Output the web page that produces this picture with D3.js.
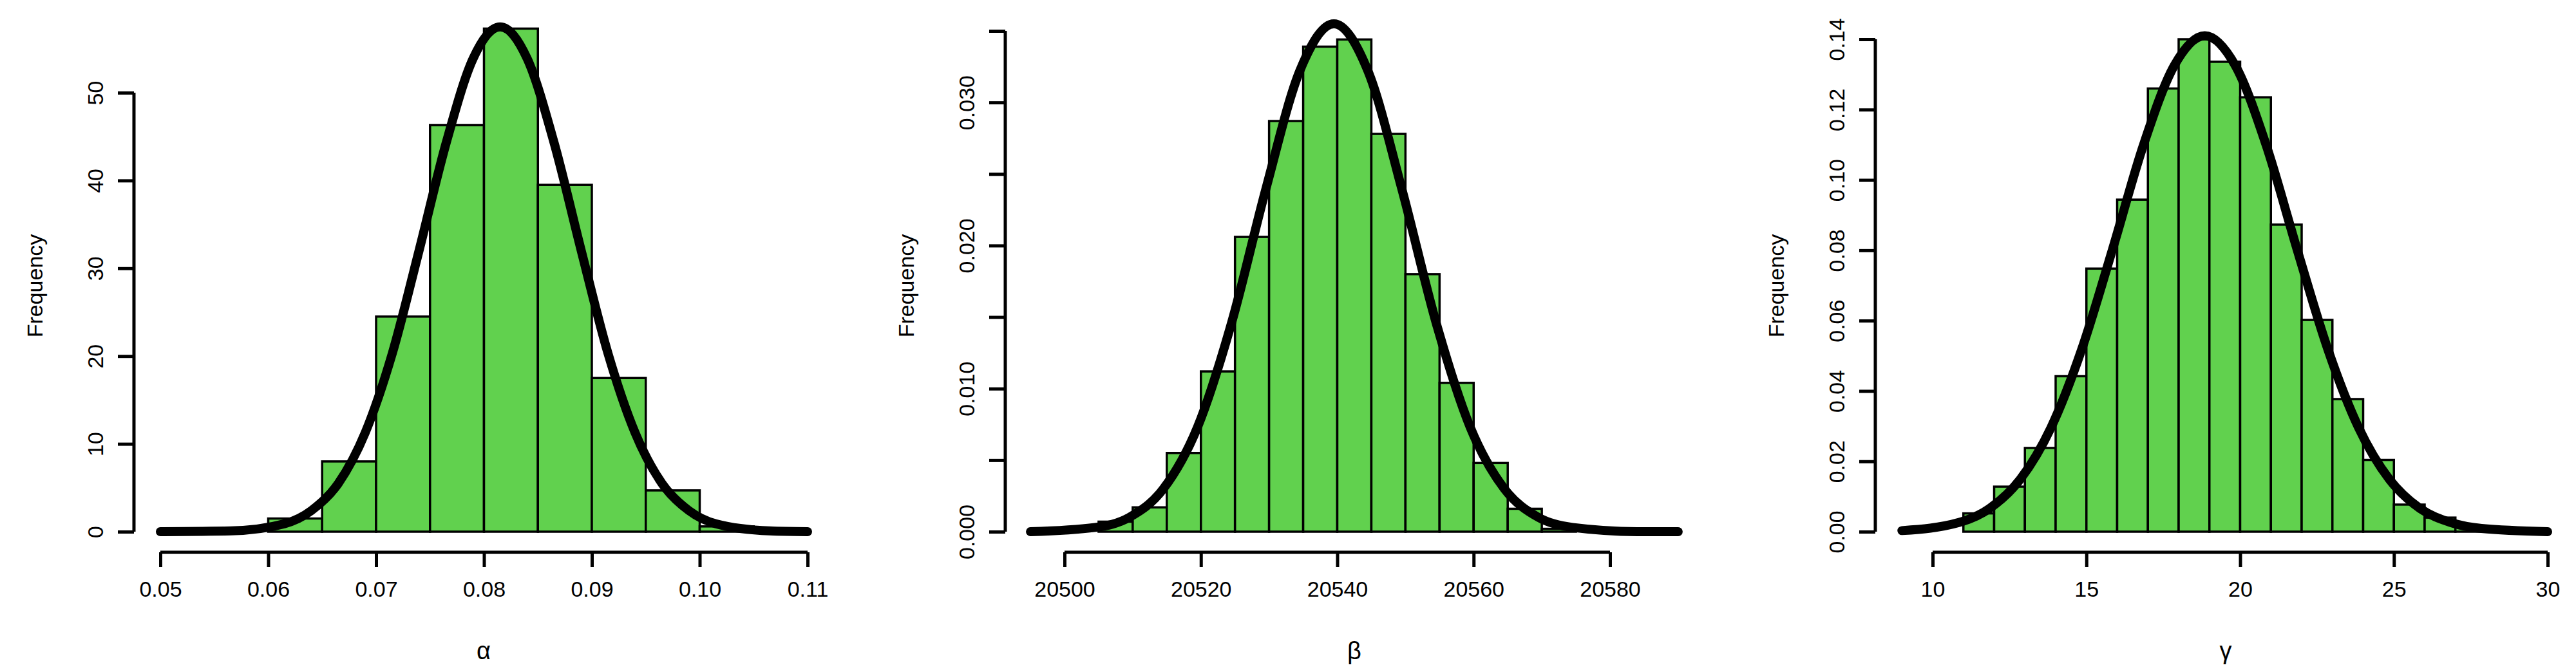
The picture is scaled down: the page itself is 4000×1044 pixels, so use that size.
<!DOCTYPE html>
<html>
<head>
<meta charset="utf-8">
<script src="https://cdn.jsdelivr.net/npm/d3@7"></script>
<style>
  body { margin: 0; background: #fff; }
  text { font-family: "Liberation Sans", Arial, sans-serif; }
</style>
</head>
<body>
<svg id="chart" width="4000" height="1044"></svg>
<script>
// ----- data -----
var alphaBins = [0.060, 0.065, 0.070, 0.075, 0.080, 0.085, 0.090, 0.095, 0.100];
var alphaHeights = [1.5, 8, 24.5, 46.3, 57.3, 39.5, 17.5, 4.7, 0.6];
var alphaCurveX = [0.05, 0.0565, 0.0615, 0.064, 0.0665, 0.069, 0.0715, 0.074, 0.0765, 0.079, 0.0815,
                   0.084, 0.0865, 0.089, 0.0915, 0.094, 0.0965, 0.099, 0.1015, 0.1065, 0.11];
var alphaCurveY = [0, 0.09, 0.9, 2.4, 5.5, 11.3, 20.3, 32.1, 44.3, 53.9, 57.5,
                   53.9, 44.3, 32.1, 20.3, 11.3, 5.5, 2.4, 0.9, 0.09, 0];
var alphaXTicks = [0.05, 0.06, 0.07, 0.08, 0.09, 0.10, 0.11];
var alphaYTicks = [0, 10, 20, 30, 40, 50];

var betaBins = [20505, 20510, 20515, 20520, 20525, 20530, 20535, 20540, 20545, 20550, 20555, 20560, 20565, 20570];
var betaHeights = [0.0007, 0.0017, 0.0055, 0.0112, 0.0206, 0.0287, 0.0339, 0.0344, 0.0278, 0.0180, 0.0104, 0.0048, 0.0016, 0.0002];
var betaCurveX = [20495, 20504.5, 20509.5, 20514.5, 20519.5, 20524.5, 20529.5, 20534.5, 20539.5,
                  20544.5, 20549.5, 20554.5, 20559.5, 20564.5, 20569.5, 20574.5, 20584.5, 20590];
var betaCurveY = [0, 0.0003, 0.0010, 0.0030, 0.0073, 0.0146, 0.0239, 0.0322, 0.0355,
                  0.0322, 0.0239, 0.0146, 0.0073, 0.0030, 0.0010, 0.0003, 0, 0];
var betaXTicks = [20500, 20520, 20540, 20560, 20580];
var betaYTicks = [0, 0.005, 0.010, 0.015, 0.020, 0.025, 0.030, 0.035];
var betaYLabels = ['0.000', '', '0.010', '', '0.020', '', '0.030', ''];

var gammaBins = [11, 12, 13, 14, 15, 16, 17, 18, 19, 20, 21, 22, 23, 24, 25, 26, 27];
var gammaHeights = [0.0052, 0.0128, 0.0238, 0.0442, 0.0748, 0.0944, 0.126, 0.140, 0.1336, 0.1235,
                    0.0873, 0.0602, 0.0377, 0.0204, 0.0077, 0.0040, 0.0016];
var gammaCurveX = [9, 10.85, 11.85, 12.85, 13.85, 14.85, 15.85, 16.85, 17.85, 18.85, 19.85, 20.85,
                   21.85, 22.85, 23.85, 24.85, 25.85, 26.85, 27.85, 30];
var gammaCurveY = [0.0003, 0.0026, 0.0066, 0.0149, 0.0296, 0.0519, 0.0803, 0.1098, 0.1324, 0.141, 0.1324, 0.1098,
                   0.0803, 0.0519, 0.0296, 0.0149, 0.0066, 0.0026, 0.0009, 0];
var gammaXTicks = [10, 15, 20, 25, 30];
var gammaYTicks = [0, 0.02, 0.04, 0.06, 0.08, 0.10, 0.12, 0.14];
var gammaYLabels = ['0.00', '0.02', '0.04', '0.06', '0.08', '0.10', '0.12', '0.14'];

var svg = d3.select('#chart');

// ----- one histogram panel -----
function drawPanel(p) {
  var x = d3.scaleLinear().domain(p.xDomain).range(p.xRange);
  var y = d3.scaleLinear().domain(p.yDomain).range([826, p.yTop]);
  var g = svg.append('g');

  // bars
  g.selectAll('rect.bar')
   .data(p.bins)
   .enter().append('rect')
   .attr('class', 'bar')
   .attr('x', function(d) { return x(d); })
   .attr('width', function(d) { return x(d + p.binWidth) - x(d); })
   .attr('y', function(d, i) { return y(p.heights[i]); })
   .attr('height', function(d, i) { return y(0) - y(p.heights[i]); })
   .attr('fill', '#61d14e')
   .attr('stroke', '#000')
   .attr('stroke-width', 3.5);

  // x axis
  var xAxis = d3.axisBottom(x).tickValues(p.xTicks).tickSize(23).tickPadding(22)
                .tickFormat(p.xFormat);
  var gx = g.append('g').attr('transform', 'translate(0,858)').call(xAxis);
  gx.select('.domain').attr('stroke-width', 5).attr('d',
      'M' + x(p.xTicks[0]) + ',0H' + x(p.xTicks[p.xTicks.length - 1]));
  gx.selectAll('.tick line').attr('stroke-width', 5);
  gx.selectAll('.tick text').attr('font-size', 34).attr('fill', '#000')
    .attr('font-family', '"Liberation Sans", Arial, sans-serif');

  // y axis
  var yAxis = d3.axisLeft(y).tickValues(p.yTicks).tickSize(25)
                .tickFormat(function(d, i) { return p.yLabels[i]; });
  var gy = g.append('g').attr('transform', 'translate(' + p.yAxisX + ',0)').call(yAxis);
  gy.select('.domain').attr('stroke-width', 5).attr('d',
      'M0,' + y(p.yTicks[0]) + 'V' + y(p.yTicks[p.yTicks.length - 1]));
  gy.selectAll('.tick line').attr('stroke-width', 5);
  gy.selectAll('.tick text').attr('font-size', 34).attr('fill', '#000')
    .attr('font-family', '"Liberation Sans", Arial, sans-serif')
    .attr('text-anchor', 'middle').attr('dy', '0').attr('x', -48)
    .attr('transform', 'rotate(-90,-48,0)');

  // density curve
  var line = d3.line()
               .x(function(d) { return x(d[0]); })
               .y(function(d) { return y(d[1]); })
               .curve(d3.curveMonotoneX);
  g.append('path')
   .datum(d3.zip(p.curveX, p.curveY))
   .attr('d', line)
   .attr('fill', 'none')
   .attr('stroke', '#000')
   .attr('stroke-width', 14)
   .attr('stroke-linecap', 'round')
   .attr('stroke-linejoin', 'round');

  // labels
  g.append('text')
   .attr('transform', 'translate(' + p.freqX + ',444) rotate(-90)')
   .attr('text-anchor', 'middle')
   .attr('font-size', 34)
   .text('Frequency');
  g.append('text')
   .attr('x', p.xLabelX).attr('y', 1024)
   .attr('text-anchor', 'middle')
   .attr('font-family', '"Liberation Serif", serif')
   .attr('font-size', 38)
   .text(p.xLabel);
}

drawPanel({
  bins: alphaBins, heights: alphaHeights, binWidth: 0.005,
  curveX: alphaCurveX, curveY: alphaCurveY,
  xDomain: [0.05, 0.11], xRange: [249, 1254], xTicks: alphaXTicks, xFormat: d3.format('.2f'),
  yDomain: [0, 50], yTop: 144, yTicks: alphaYTicks, yLabels: alphaYTicks.map(String),
  yAxisX: 208, freqX: 66, xLabelX: 751, xLabel: 'α'
});

drawPanel({
  bins: betaBins, heights: betaHeights, binWidth: 5,
  curveX: betaCurveX, curveY: betaCurveY,
  xDomain: [20500, 20580], xRange: [1653, 2500], xTicks: betaXTicks, xFormat: d3.format('d'),
  yDomain: [0, 0.035], yTop: 48, yTicks: betaYTicks, yLabels: betaYLabels,
  yAxisX: 1561, freqX: 1419, xLabelX: 2103, xLabel: 'β'
});

drawPanel({
  bins: gammaBins, heights: gammaHeights, binWidth: 1,
  curveX: gammaCurveX, curveY: gammaCurveY,
  xDomain: [10, 30], xRange: [3001, 3956], xTicks: gammaXTicks, xFormat: d3.format('d'),
  yDomain: [0, 0.14], yTop: 61, yTicks: gammaYTicks, yLabels: gammaYLabels,
  yAxisX: 2912, freqX: 2770, xLabelX: 3456, xLabel: 'γ'
});
</script>
</body>
</html>
